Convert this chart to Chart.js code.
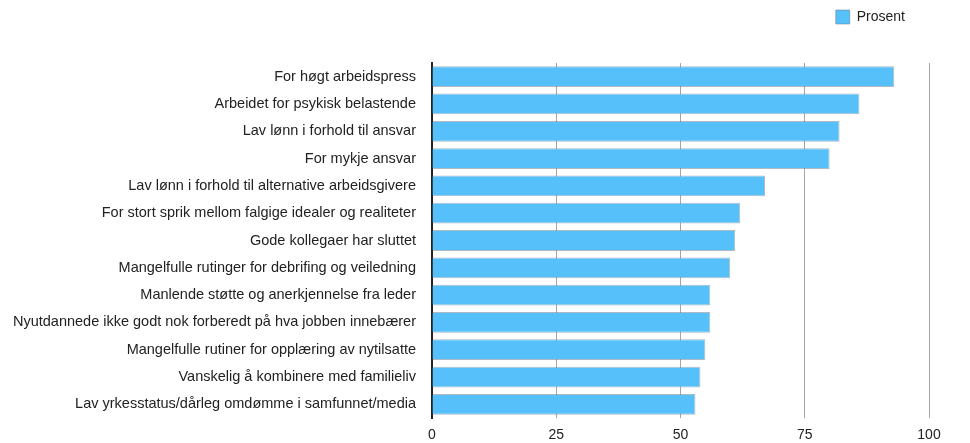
<!DOCTYPE html>
<html>
<head>
<meta charset="utf-8">
<script src="https://cdn.jsdelivr.net/npm/chart.js@4/dist/chart.umd.min.js"></script>
<style>
  html, body { margin: 0; padding: 0; background: #fff; }
  #wrap { width: 970px; height: 443px; }
</style>
</head>
<body>
<div id="wrap"><canvas id="chart"></canvas></div>
<script>
// reasons, read top to bottom
const categories = [
  'For høgt arbeidspress',
  'Arbeidet for psykisk belastende',
  'Lav lønn i forhold til ansvar',
  'For mykje ansvar',
  'Lav lønn i forhold til alternative arbeidsgivere',
  'For stort sprik mellom falgige idealer og realiteter',
  'Gode kollegaer har sluttet',
  'Mangelfulle rutinger for debrifing og veiledning',
  'Manlende støtte og anerkjennelse fra leder',
  'Nyutdannede ikke godt nok forberedt på hva jobben innebærer',
  'Mangelfulle rutiner for opplæring av nytilsatte',
  'Vanskelig å kombinere med familieliv',
  'Lav yrkesstatus/dårleg omdømme i samfunnet/media'
];
const prosent = [93, 86, 82, 80, 67, 62, 61, 60, 56, 56, 55, 54, 53];
const xTicks = [0, 25, 50, 75, 100];

Chart.defaults.font.family = '"Liberation Sans", Arial, Helvetica, sans-serif';
Chart.defaults.font.size = 14;
Chart.defaults.color = '#222';

// legend sits in its own strip above the plot, shifted in from the right
const legendPlace = {
  id: 'legendPlace',
  beforeInit(chart) {
    const fit = chart.legend.fit;
    chart.legend.fit = function () {
      fit.bind(chart.legend)();
      this.height = 63;
    };
  },
  afterLayout(chart) {
    chart.legend.right = 915;
  }
};

new Chart(document.getElementById('chart'), {
  type: 'bar',
  data: {
    labels: categories,
    datasets: [{
      label: 'Prosent',
      data: prosent,
      backgroundColor: '#56c0fa',
      borderColor: 'rgba(110,130,145,0.55)',
      borderWidth: 1,
      barPercentage: 0.76,
      categoryPercentage: 1
    }]
  },
  options: {
    indexAxis: 'y',
    responsive: true,
    maintainAspectRatio: false,
    animation: false,
    layout: { padding: { left: 0, right: 41, top: 0, bottom: 0 } },
    plugins: {
      legend: {
        position: 'top',
        align: 'end',
        labels: { boxWidth: 14, boxHeight: 14, padding: 10, color: '#222', font: { size: 14 } }
      },
      tooltip: { enabled: false }
    },
    scales: {
      x: {
        min: 0, max: 100,
        afterBuildTicks(scale) { scale.ticks = xTicks.map(v => ({ value: v })); },
        afterFit(scale) { scale.height = 25; },
        grid: { color: '#a5a5a5', lineWidth: 1, drawTicks: false },
        border: { display: false },
        ticks: { padding: 9, color: '#222', font: { size: 14 } }
      },
      y: {
        afterFit(scale) { scale.width = 432; },
        grid: { display: false, drawTicks: false },
        border: { display: true, color: '#222', width: 2 },
        ticks: { padding: 16, color: '#222', font: { size: 14.5 } }
      }
    }
  },
  plugins: [legendPlace]
});
</script>
</body>
</html>
